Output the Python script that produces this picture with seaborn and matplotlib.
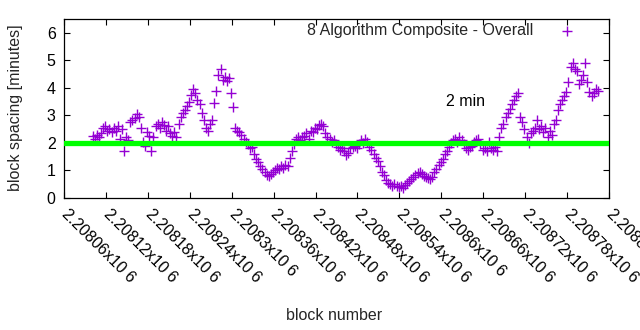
import matplotlib
matplotlib.use("Agg")
import matplotlib.pyplot as plt
import seaborn as sns
import numpy as np
import pandas as pd

# ---- data ----
first_block = 2208101
block_step = 3
spacing_minutes = [
    2.25, 2.15, 2.30, 2.20, 2.35, 2.55, 2.60, 2.45, 2.50, 2.40,
    2.55, 2.45, 2.60, 2.15, 2.50, 1.72, 2.20, 2.10, 2.75, 2.85,
    2.90, 3.05, 2.95, 2.55, 2.05, 1.90, 2.40, 2.25, 1.72, 2.20,
    2.60, 2.70, 2.55, 2.75, 2.65, 2.45, 2.60, 2.35, 2.25, 2.40,
    2.20, 2.70, 2.95, 3.10, 3.20, 3.35, 3.50, 3.75, 3.95, 3.80,
    3.55, 3.40, 3.10, 2.85, 2.55, 2.45, 2.70, 2.85, 3.45, 3.90,
    4.45, 4.70, 4.30, 4.40, 4.25, 4.35, 3.80, 3.30, 2.55, 2.45,
    2.40, 2.30, 2.15, 2.05, 1.95, 1.80, 1.85, 1.60, 1.40, 1.30,
    1.15, 1.05, 0.95, 0.85, 0.80, 0.88, 0.95, 1.00, 1.10, 1.05,
    1.15, 1.10, 1.20, 1.15, 1.45, 1.70, 1.95, 2.15, 2.20, 2.10,
    2.20, 2.25, 2.35, 2.15, 2.45, 2.40, 2.55, 2.50, 2.65, 2.70,
    2.60, 2.35, 2.20, 2.15, 2.05, 2.10, 1.95, 1.85, 1.75, 1.80,
    1.70, 1.55, 1.65, 1.80, 1.85, 1.90, 1.80, 1.95, 2.10, 2.00,
    2.15, 2.05, 1.85, 1.75, 1.60, 1.45, 1.35, 1.15, 0.95, 0.85,
    0.65, 0.55, 0.50, 0.45, 0.50, 0.42, 0.40, 0.45, 0.38, 0.48,
    0.55, 0.62, 0.70, 0.78, 0.85, 0.90, 0.95, 0.88, 0.80, 0.75,
    0.72, 0.68, 0.75, 0.95, 1.05, 1.20, 1.30, 1.40, 1.60, 1.70,
    1.85, 2.00, 2.10, 2.15, 2.05, 2.20, 2.10, 1.95, 1.80, 1.75,
    1.85, 1.90, 2.05, 2.10, 2.15, 1.95, 1.75, 1.80, 1.72, 2.05,
    1.80, 1.75, 1.85, 1.70, 2.20, 2.55, 2.70, 2.95, 3.10, 3.25,
    3.40, 3.55, 3.70, 3.80, 2.95, 2.75, 2.50, 2.20, 2.00, 2.35,
    2.45, 2.55, 2.85, 2.50, 2.60, 2.40, 2.55, 2.20, 2.45, 2.30,
    2.70, 2.85, 3.20, 3.40, 3.55, 3.70, 3.85, 4.20, 4.75, 4.90,
    4.70, 4.60, 4.15, 4.30, 4.45, 4.90, 4.20, 3.85, 3.70, 3.80,
    3.95, 3.90,
]
block_numbers = first_block + block_step * np.arange(len(spacing_minutes))

target_minutes = 2.0
series_label = "8 Algorithm Composite - Overall"
target_label = "2 min"
target_label_pos = (2208607, 3.5)

x_ticks = list(range(2208060, 2208841, 60))
x_tick_labels = [f"{t / 1e6:g}x10 6" for t in x_ticks]
y_ticks = [0, 1, 2, 3, 4, 5, 6]

df = pd.DataFrame({"block": block_numbers, "spacing": spacing_minutes})

# ---- style ----
sns.set_style("ticks")
plt.rcParams["font.family"] = ["Liberation Sans", "DejaVu Sans"]
plt.rcParams["font.size"] = 11.5

fig = plt.figure(figsize=(6.4, 3.3), dpi=100)
ax = fig.add_axes([64 / 640, 132 / 330, 545 / 640, 179 / 330])

sns.scatterplot(data=df, x="block", y="spacing", ax=ax, marker="+",
                color="#9400d3", s=50, linewidth=1.0, label=series_label,
                zorder=2)
ax.axhline(target_minutes, color="#00ff00", lw=3.8, zorder=3)
ax.text(target_label_pos[0], target_label_pos[1], target_label,
        ha="left", va="center", fontsize=11.5, color="black")

ax.set_xlim(x_ticks[0], x_ticks[-1])
ax.set_ylim(0, 6.5)
ax.set_xticks(x_ticks)
ax.set_xticklabels(x_tick_labels, rotation=-45, ha="left", va="center",
                   rotation_mode="anchor")
ax.set_yticks(y_ticks)
ax.tick_params(direction="in", top=True, right=True, length=4, width=0.8,
               labelsize=11.5, colors="black")
ax.tick_params(axis="x", pad=10)
ax.tick_params(axis="y", pad=6)
for sp in ax.spines.values():
    sp.set_visible(True)
    sp.set_linewidth(0.9)
    sp.set_color("black")

ax.set_xlabel("block number", fontsize=11.5)
ax.set_ylabel("block spacing [minutes]", fontsize=11.5)
ax.xaxis.set_label_coords(0.495, -0.615)
ax.yaxis.set_label_coords(-0.075, 0.503)

leg = ax.legend(loc="upper right", bbox_to_anchor=(0.958, 0.995),
                frameon=False, markerfirst=False, borderaxespad=0,
                borderpad=0.2, handletextpad=1.1, handlelength=2.0,
                fontsize=11.5)

fig.savefig("out.png", dpi=100)
